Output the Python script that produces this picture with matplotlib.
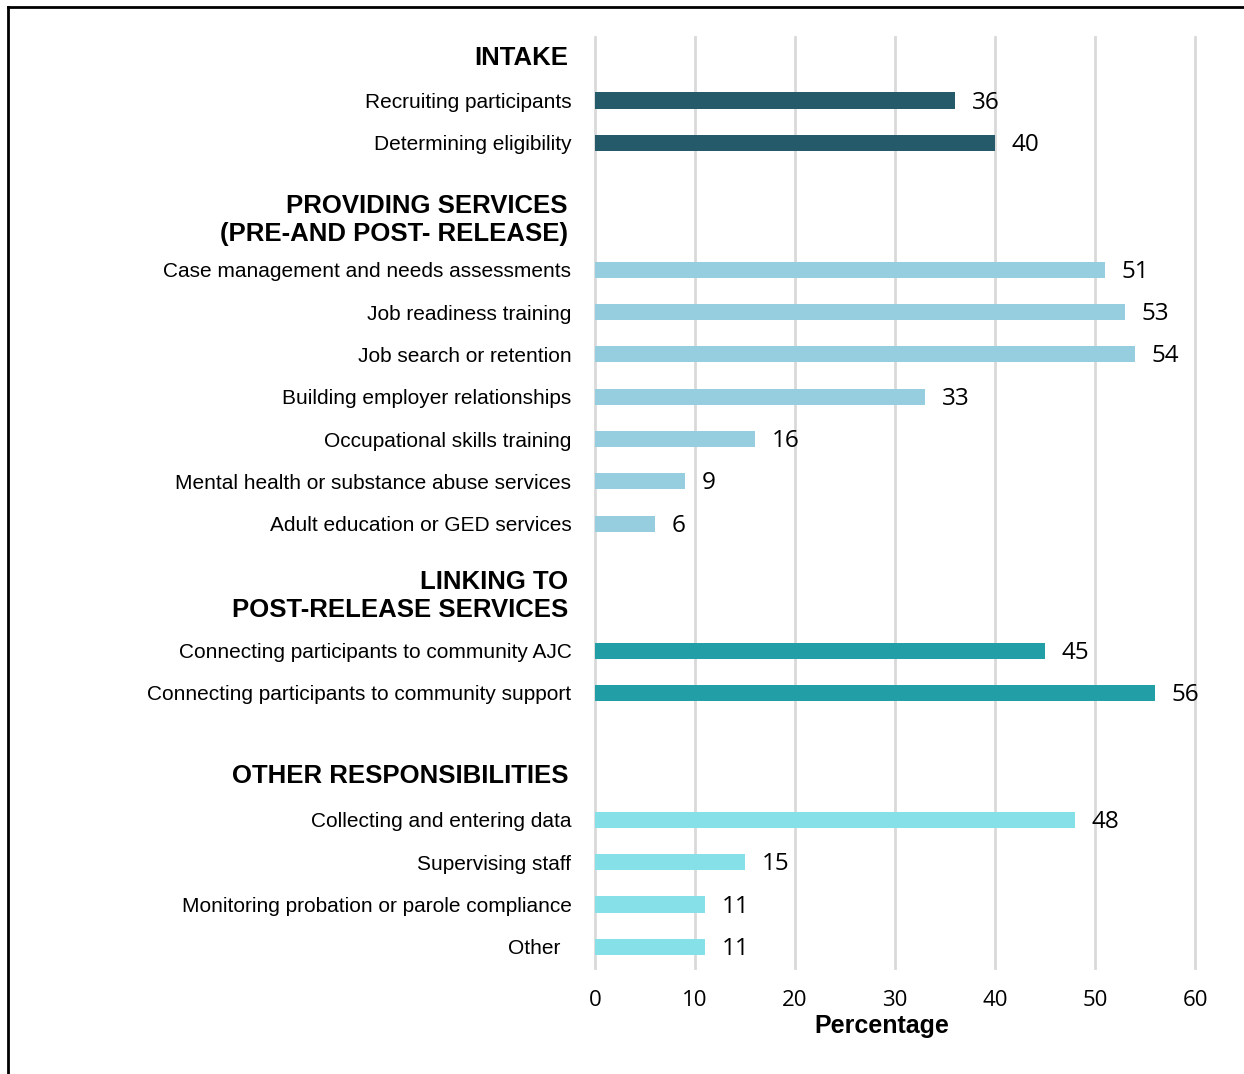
import matplotlib
matplotlib.use("Agg")
import matplotlib.pyplot as plt
from matplotlib.lines import Line2D
from matplotlib.transforms import blended_transform_factory

# ---- data ----
headers = ["INTAKE", "PROVIDING SERVICES\n(PRE-AND POST- RELEASE)",
           "LINKING TO\nPOST-RELEASE SERVICES", "OTHER RESPONSIBILITIES"]
intake_labels = ["Recruiting participants", "Determining eligibility"]
intake_values = [36, 40]
services_labels = ["Case management and needs assessments", "Job readiness training",
                   "Job search or retention", "Building employer relationships",
                   "Occupational skills training", "Mental health or substance abuse services",
                   "Adult education or GED services"]
services_values = [51, 53, 54, 33, 16, 9, 6]
linking_labels = ["Connecting participants to community AJC",
                  "Connecting participants to community support"]
linking_values = [45, 56]
other_labels = ["Collecting and entering data", "Supervising staff",
                "Monitoring probation or parole compliance", "Other  "]
other_values = [48, 15, 11, 11]
x_ticks = [0, 10, 20, 30, 40, 50, 60]
x_label = "Percentage"

# ---- layout: slot positions (top to bottom) ----
group_slots = [[1, 2], [5, 6, 7, 8, 9, 10, 11], [14, 15], [18, 19, 20, 21]]
header_slots = [0, 3.82, 12.7, 16.96]
colors = ["#245A6A", "#96CDDF", "#219EA6", "#86E0E8"]
groups = [(intake_labels, intake_values), (services_labels, services_values),
          (linking_labels, linking_values), (other_labels, other_values)]

W, H = 1244, 1074
fig = plt.figure(figsize=(W / 100, H / 100), dpi=100)
ax = fig.add_axes([595 / W, 1 - 968 / H, 600 / W, 931 / H])

labfont = ["Liberation Sans", "DejaVu Sans"]
numfont = ["Open Sans", "DejaVu Sans"]

all_pos, all_lab = [], []
for (labs, vals), slots, col in zip(groups, group_slots, colors):
    ax.barh(slots, vals, height=0.38, color=col, zorder=3)
    for s, v in zip(slots, vals):
        ax.annotate(str(v), xy=(v, s), xytext=(12, -1.5), textcoords="offset points",
                    ha="left", va="center", fontsize=17.5, family=numfont, color="black")
    all_pos += slots
    all_lab += labs

ax.set_yticks(all_pos)
ax.set_yticklabels(all_lab, fontsize=15, family=labfont)
ax.tick_params(axis="y", length=0, pad=17)
ax.set_ylim(21.5, -0.5)

ax.set_xlim(0, 60)
ax.set_xticks(x_ticks)
ax.set_xticklabels([str(t) for t in x_ticks], fontsize=16, family=numfont)
ax.tick_params(axis="x", length=0, pad=16)
ax.grid(axis="x", color="#D9D9D9", linewidth=2, zorder=0)
for gl in ax.get_xgridlines():
    gl.set_clip_on(False)
for sp in ax.spines.values():
    sp.set_visible(False)

trans = blended_transform_factory(fig.transFigure, ax.transData)
for h, s in zip(headers, header_slots):
    ax.text(568 / W, s, h, transform=trans, ha="right", va="center",
            fontsize=18.5, fontweight="bold", family=labfont, linespacing=1.22)

fig.text(882 / W, 1 - 1026 / H, x_label, ha="center", va="center",
         fontsize=18, fontweight="bold", family=labfont)

# frame around figure
fig.add_artist(Line2D([8 / W, 1.0], [1 - 7 / H, 1 - 7 / H], transform=fig.transFigure,
                      color="black", linewidth=2))
fig.add_artist(Line2D([8 / W, 8 / W], [0, 1 - 7 / H], transform=fig.transFigure,
                      color="black", linewidth=2))

fig.savefig("out.png", dpi=100)
